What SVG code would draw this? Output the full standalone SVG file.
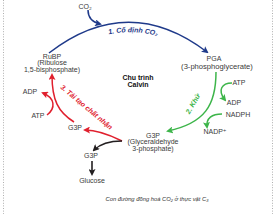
<svg xmlns="http://www.w3.org/2000/svg" width="278" height="214" viewBox="0 0 278 214">
<style>
.t{font-family:"Liberation Sans","DejaVu Sans",Arial,sans-serif;font-size:7px;fill:#3a3a3a;text-anchor:middle}
.b{font-weight:bold;fill:#111}
.lbl{font-family:"Liberation Sans","DejaVu Sans",Arial,sans-serif;font-size:7px;font-weight:bold;font-style:italic;text-anchor:middle}
.cap{font-family:"Liberation Sans","DejaVu Sans",Arial,sans-serif;font-size:5.8px;font-style:italic;fill:#333;text-anchor:middle}
.blue{fill:none;stroke:#1f3a8a;stroke-width:1.5}
.green{fill:none;stroke:#3db54a;stroke-width:1.5}
.red{fill:none;stroke:#e0202e;stroke-width:1.5}
.black{fill:none;stroke:#231f20;stroke-width:1.6}
.border{stroke:#9a9a9a;stroke-width:0.8;stroke-dasharray:1 1.6}
</style>
<defs>
<marker id="ab" markerWidth="7" markerHeight="7" refX="5" refY="3.5" orient="auto" markerUnits="userSpaceOnUse" viewBox="0 0 7 7"><path d="M0,0 L7,3.5 L0,7 L1.5,3.5 Z" fill="#1f3a8a"/></marker>
<marker id="ag" markerWidth="7" markerHeight="7" refX="5" refY="3.5" orient="auto" markerUnits="userSpaceOnUse" viewBox="0 0 7 7"><path d="M0,0 L7,3.5 L0,7 L1.5,3.5 Z" fill="#3db54a"/></marker>
<marker id="ar" markerWidth="7" markerHeight="7" refX="5" refY="3.5" orient="auto" markerUnits="userSpaceOnUse" viewBox="0 0 7 7"><path d="M0,0 L7,3.5 L0,7 L1.5,3.5 Z" fill="#e0202e"/></marker>
<marker id="ak" markerWidth="7" markerHeight="7" refX="5" refY="3.5" orient="auto" markerUnits="userSpaceOnUse" viewBox="0 0 7 7"><path d="M0,0 L7,3.5 L0,7 L1.5,3.5 Z" fill="#231f20"/></marker>
<path id="arcText" d="M49,63 Q130,2 207,62"/>
</defs>
<line class="border" x1="3.5" y1="0" x2="3.5" y2="214"/>
<line class="border" x1="272.5" y1="0" x2="272.5" y2="214"/>
<g id="connectors">
<path class="blue" d="M88,10 Q88,21 100,24" marker-end="url(#ab)"/>
<path class="blue" d="M49,53 Q128,-8 207,52" marker-end="url(#ab)"/>
<path class="green" d="M216,72 C216,105 205,123 168,131" marker-end="url(#ag)"/>
<path class="green" d="M232,83 C222,83 217,90 225,100" marker-end="url(#ag)"/>
<path class="green" d="M222,114 C212,114 206,118 207,127" marker-end="url(#ag)"/>
<path class="red" d="M74,122 C58,112 52,100 52,75" marker-end="url(#ar)"/>
<path class="red" d="M47,115 C56,108 55,98 43,93" marker-end="url(#ar)"/>
<path class="red" d="M122,141 Q100,130 85,130" marker-end="url(#ar)"/>
<path class="black" d="M122,141 Q103,141 94,150" marker-end="url(#ak)"/>
<path class="black" d="M92,161 L92,174" marker-end="url(#ak)"/>
</g>
<g id="labels">
<text class="lbl" fill="#1f3a8a"><textPath href="#arcText" startOffset="53%">1. Cố định CO₂</textPath></text>
<text class="lbl" fill="#3db54a" transform="translate(195,105) rotate(-60)">2. Khử</text>
<text class="lbl" fill="#e0202e" transform="translate(85,109) rotate(40)">3. Tái tạo chất nhận</text>
</g>
<g id="co2"><text class="t" x="85" y="8.5">CO₂</text></g>
<g id="rubp"><text class="t" x="52" y="58.5">RuBP</text><text class="t" x="52" y="65">(Ribulose</text><text class="t" x="52" y="71.5">1,5-bisphosphate)</text></g>
<g id="pga"><text class="t" x="214" y="60.5">PGA</text><text class="t" x="217" y="68.5" style="font-size:7.6px">(3-phosphoglycerate)</text></g>
<g id="calvin"><text class="t b" x="138" y="79.5">Chu trình</text><text class="t b" x="138" y="86.5">Calvin</text></g>
<g id="atp-r"><text class="t" x="239" y="84.5">ATP</text></g>
<g id="adp-r"><text class="t" x="234" y="104.5">ADP</text></g>
<g id="nadph"><text class="t" x="238" y="116.5">NADPH</text></g>
<g id="nadp"><text class="t" x="215" y="133.5">NADP⁺</text></g>
<g id="adp-l"><text class="t" x="30" y="93.5">ADP</text></g>
<g id="atp-l"><text class="t" x="38" y="117.5">ATP</text></g>
<g id="g3p-red"><text class="t" x="75" y="129.5">G3P</text></g>
<g id="g3p"><text class="t" x="153" y="137.5">G3P</text><text class="t" x="153" y="144">(Glyceraldehyde</text><text class="t" x="153" y="150.5">3-phosphate)</text></g>
<g id="g3p-black"><text class="t" x="91" y="157.5">G3P</text></g>
<g id="glucose"><text class="t" x="92" y="182.5">Glucose</text></g>
<g id="caption"><text class="cap" x="157" y="201">Con đường đồng hoá CO₂ ở thực vật C₃</text></g>
</svg>
